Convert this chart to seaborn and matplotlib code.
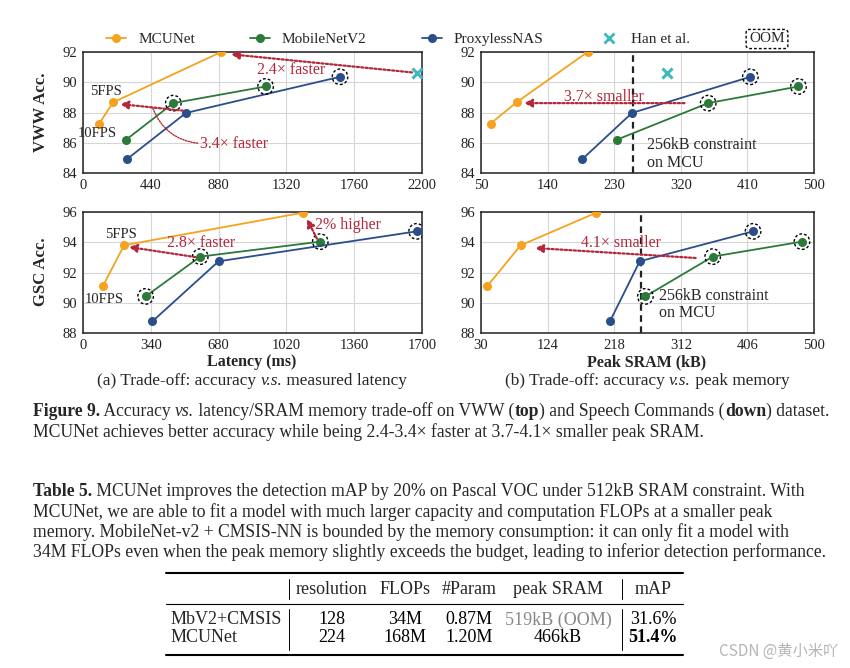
import matplotlib
matplotlib.use('Agg')
import matplotlib.pyplot as plt
import seaborn as sns
from matplotlib.lines import Line2D

# values
vww_latency_mcunet = [106, 195, 896]
vww_latency_mbv2 = [281, 586, 1185]
vww_latency_proxyless = [286, 668, 1668]
vww_sram_mcunet = [63, 98, 194]
vww_sram_mbv2 = [234, 357, 479]
vww_sram_proxyless = [187, 254, 414]
vww_acc_mcunet = [87.27, 88.67, 92.0]
vww_acc_mbv2 = [86.21, 88.62, 89.72]
vww_acc_proxyless = [84.92, 87.97, 90.36]
vww_oom_mbv2 = [False, True, True]
vww_oom_proxyless = [False, False, True]
han_latency = [2165]
han_sram = [301]
han_acc = [90.63]

gsc_latency_mcunet = [100, 206, 1105]
gsc_latency_mbv2 = [314, 588, 1190]
gsc_latency_proxyless = [348, 680, 1673]
gsc_sram_mcunet = [39, 86, 193]
gsc_sram_mbv2 = [262, 357, 483]
gsc_sram_proxyless = [212, 254, 414]
gsc_acc_mcunet = [91.11, 93.80, 95.96]
gsc_acc_mbv2 = [90.42, 93.05, 94.04]
gsc_acc_proxyless = [88.77, 92.74, 94.72]
gsc_oom_mbv2 = [True, True, True]
gsc_oom_proxyless = [False, False, True]

vww_latency_ticks = [0, 440, 880, 1320, 1760, 2200]
vww_sram_ticks = [50, 140, 230, 320, 410, 500]
gsc_latency_ticks = [0, 340, 680, 1020, 1360, 1700]
gsc_sram_ticks = [30, 124, 218, 312, 406, 500]
vww_acc_ticks = [84, 86, 88, 90, 92]
gsc_acc_ticks = [88, 90, 92, 94, 96]

table_header = ['resolution', 'FLOPs', '#Param', 'peak SRAM', 'mAP']
table_rows = ['MbV2+CMSIS', 'MCUNet']
table_resolution = ['128', '224']
table_flops = ['34M', '168M']
table_params = ['0.87M', '1.20M']
table_sram = ['519kB (OOM)', '466kB']
table_map = ['31.6%', '51.4%']

ORANGE = '#F6A21E'
GREEN = '#2B7A3A'
BLUE = '#2A4E8C'
CYAN = '#3DB8BE'
RED = '#B3283A'

sns.set_theme(style='whitegrid')
plt.rcParams['font.family'] = ['Liberation Serif', 'DejaVu Serif']

W, H = 850, 668
fig = plt.figure(figsize=(8.5, 6.68), dpi=100)
renderer = fig.canvas.get_renderer()


def fx(px):
    return px / W


def fy(py):
    return 1 - py / H


def make_ax(left, top, right, bottom):
    return fig.add_axes([fx(left), fy(bottom), fx(right) - fx(left), (bottom - top) / H])


def rich(x, y, parts, size, ha='left'):
    # parts: list of (text, weight, style); drawn one after another
    objs = []
    cur = x
    for s, wgt, sty in parts:
        t = fig.text(fx(cur), fy(y), s, fontsize=size, fontweight=wgt, fontstyle=sty, va='center')
        cur += t.get_window_extent(renderer).width
        objs.append(t)
    if ha == 'center':
        shift = (cur - x) / 2
        for t in objs:
            px, py = t.get_position()
            t.set_position((px - shift / W, py))


def panel(ax, xs, accs, ooms, xticks, yticks):
    for x, y, c in zip(xs, accs, [ORANGE, GREEN, BLUE]):
        sns.lineplot(x=x, y=y, ax=ax, color=c, marker='o', markersize=6.5,
                     markeredgewidth=0, linewidth=1.3, sort=False, legend=False, zorder=3)
    for x, y, o in zip(xs[1:], accs[1:], ooms):
        px = [a for a, f in zip(x, o) if f]
        py = [b for b, f in zip(y, o) if f]
        ax.scatter(px, py, s=125, facecolors='none', edgecolors='black',
                   linewidths=1.0, linestyle=(0, (2, 1.5)), zorder=4)
    ax.set_xlim(xticks[0], xticks[-1])
    ax.set_ylim(yticks[0], yticks[-1])
    ax.set_xticks(xticks)
    ax.set_yticks(yticks)
    ax.set_xlabel('')
    ax.set_ylabel('')
    ax.tick_params(length=0, labelsize=10.5, pad=4, colors='#222222')
    ax.grid(True, color='#d6d6d6', linewidth=0.8)
    for s in ax.spines.values():
        s.set_color('#222222')
        s.set_linewidth(1.1)


def arrow(ax, start, end, lw=1.6):
    ax.annotate('', xy=end, xytext=start,
                arrowprops=dict(arrowstyle='-|>,head_length=0.4,head_width=0.2', color=RED,
                                lw=lw, linestyle=(0, (1, 1)), shrinkA=0, shrinkB=0), zorder=5)


ax1 = make_ax(83, 52, 422, 173)
ax2 = make_ax(481, 52, 814, 173)
ax3 = make_ax(83, 212, 422, 333)
ax4 = make_ax(481, 212, 814, 333)

# VWW vs latency
panel(ax1, [vww_latency_mcunet, vww_latency_mbv2, vww_latency_proxyless],
      [vww_acc_mcunet, vww_acc_mbv2, vww_acc_proxyless],
      [vww_oom_mbv2, vww_oom_proxyless], vww_latency_ticks, vww_acc_ticks)
ax1.plot(han_latency, han_acc, 'x', color=CYAN, markersize=7, markeredgewidth=2.2, clip_on=False, zorder=5)
arrow(ax1, (2135, 90.65), (960, 91.85))
ax1.text(1352, 90.84, '2.4× faster', color=RED, fontsize=11.5, ha='center', va='center')
arrow(ax1, (650, 88.12), (240, 88.56))
ax1.annotate('', xy=(745, 85.97), xytext=(454, 88.27),
             arrowprops=dict(arrowstyle='-', color=RED, lw=1.0, linestyle=(0, (1, 1)),
                             connectionstyle='arc3,rad=0.3', shrinkA=0, shrinkB=0))
ax1.text(761, 85.93, '3.4× faster', color=RED, fontsize=11.5, ha='left', va='center')
ax1.text(151, 89.37, '5FPS', fontsize=10.5, ha='center', va='center')
ax1.text(93, 86.58, '10FPS', fontsize=10.5, ha='center', va='center')

# VWW vs SRAM
panel(ax2, [vww_sram_mcunet, vww_sram_mbv2, vww_sram_proxyless],
      [vww_acc_mcunet, vww_acc_mbv2, vww_acc_proxyless],
      [vww_oom_mbv2, vww_oom_proxyless], vww_sram_ticks, vww_acc_ticks)
ax2.plot(han_sram, han_acc, 'x', color=CYAN, markersize=7, markeredgewidth=2.2, zorder=5)
ax2.axvline(256, color='#222222', linestyle=(0, (3, 2)), linewidth=1.6, zorder=2)
arrow(ax2, (325, 88.62), (108, 88.62))
ax2.text(216, 89.04, '3.7× smaller', color=RED, fontsize=11.5, ha='center', va='center')
ax2.text(274, 85.25, '256kB constraint\non MCU', fontsize=11.5, ha='left', va='center', linespacing=1.1)

# GSC vs latency
panel(ax3, [gsc_latency_mcunet, gsc_latency_mbv2, gsc_latency_proxyless],
      [gsc_acc_mcunet, gsc_acc_mbv2, gsc_acc_proxyless],
      [gsc_oom_mbv2, gsc_oom_proxyless], gsc_latency_ticks, gsc_acc_ticks)
arrow(ax3, (563, 93.02), (229, 93.69))
ax3.text(593, 93.95, '2.8× faster', color=RED, fontsize=11.5, ha='center', va='center')
arrow(ax3, (1173, 94.24), (1123, 95.54))
ax3.text(1165, 95.12, '2% higher', color=RED, fontsize=11.5, ha='left', va='center')
ax3.text(190, 94.52, '5FPS', fontsize=10.5, ha='center', va='center')
ax3.text(107, 90.22, '10FPS', fontsize=10.5, ha='center', va='center')

# GSC vs SRAM
panel(ax4, [gsc_sram_mcunet, gsc_sram_mbv2, gsc_sram_proxyless],
      [gsc_acc_mcunet, gsc_acc_mbv2, gsc_acc_proxyless],
      [gsc_oom_mbv2, gsc_oom_proxyless], gsc_sram_ticks, gsc_acc_ticks)
ax4.axvline(256, color='#222222', linestyle=(0, (3, 2)), linewidth=1.6, zorder=2)
arrow(ax4, (333, 92.96), (106, 93.62))
ax4.text(228, 93.95, '4.1× smaller', color=RED, fontsize=11.5, ha='center', va='center')
ax4.text(281, 89.86, '256kB constraint\non MCU', fontsize=11.5, ha='left', va='center', linespacing=1.1)

# axis labels and sub captions
fig.text(fx(41), fy(112), 'VWW Acc.', rotation=90, fontsize=12, fontweight='bold', ha='center', va='center')
fig.text(fx(41), fy(272), 'GSC Acc.', rotation=90, fontsize=12, fontweight='bold', ha='center', va='center')
fig.text(fx(252), fy(362), 'Latency (ms)', fontsize=11.5, fontweight='bold', ha='center', va='center')
fig.text(fx(647), fy(362), 'Peak SRAM (kB)', fontsize=11.5, fontweight='bold', ha='center', va='center')
rich(252, 381, [('(a) Trade-off: accuracy ', 'normal', 'normal'), ('v.s.', 'normal', 'italic'),
                (' measured latency', 'normal', 'normal')], 12.4, ha='center')
rich(647, 381, [('(b) Trade-off: accuracy ', 'normal', 'normal'), ('v.s.', 'normal', 'italic'),
                (' peak memory', 'normal', 'normal')], 12.4, ha='center')

# legend
handles = [
    Line2D([], [], color=ORANGE, marker='o', markersize=6.5, markeredgewidth=0, lw=1.3),
    Line2D([], [], color=GREEN, marker='o', markersize=6.5, markeredgewidth=0, lw=1.3),
    Line2D([], [], color=BLUE, marker='o', markersize=6.5, markeredgewidth=0, lw=1.3),
    Line2D([], [], color=CYAN, marker='x', markersize=7, markeredgewidth=2, lw=0),
]
fig.legend(handles, ['MCUNet', 'MobileNetV2', 'ProxylessNAS', 'Han et al.'], loc='center left',
           bbox_to_anchor=(fx(100), fy(39)), ncol=4, frameon=False, fontsize=11,
           handlelength=1.3, handletextpad=0.8, columnspacing=3.6, borderaxespad=0)
fig.text(fx(767), fy(39), 'OOM', fontsize=11, ha='center', va='center',
         bbox=dict(boxstyle='round,pad=0.2', fc='none', ec='black', ls=(0, (2, 1.5)), lw=1))

# figure caption and table caption
cap = 12.7
N, B, I = 'normal', 'bold', 'italic'
rich(33, 411, [('Figure 9.', B, N), (' Accuracy ', N, N), ('vs.', N, I),
               (' latency/SRAM memory trade-off on VWW (', N, N), ('top', B, N),
               (') and Speech Commands (', N, N), ('down', B, N), (') dataset.', N, N)], cap)
rich(33, 432, [('MCUNet achieves better accuracy while being 2.4-3.4× faster at 3.7-4.1× smaller peak SRAM.', N, N)], cap)
rich(33, 491, [('Table 5.', B, N), (' MCUNet improves the detection mAP by 20% on Pascal VOC under '
                                     '512kB SRAM constraint. With', N, N)], cap)
rich(33, 512, [('MCUNet, we are able to fit a model with much larger capacity and computation FLOPs at a '
                'smaller peak', N, N)], cap)
rich(33, 532, [('memory. MobileNet-v2 + CMSIS-NN is bounded by the memory consumption: it can only fit a '
                'model with', N, N)], cap)
rich(33, 552, [('34M FLOPs even when the peak memory slightly exceeds the budget, leading to inferior '
                'detection performance.', N, N)], cap)

# table
tab = fig.add_axes([0, 0, 1, 1], facecolor='none')
tab.set_xlim(0, W)
tab.set_ylim(H, 0)
tab.axis('off')
tab.plot([166, 683], [573, 573], color='black', lw=1.5)
tab.plot([166, 683], [604, 604], color='black', lw=0.8)
tab.plot([166, 683], [655, 655], color='black', lw=1.5)
for xv in [289, 622]:
    tab.plot([xv, xv], [579, 599], color='black', lw=0.7)
    tab.plot([xv, xv], [609, 650], color='black', lw=0.7)
col_x = [332, 405, 469, 558, 653]
for cx, h in zip(col_x, table_header):
    tab.text(cx, 589, h, fontsize=13, ha='center', va='center')
for i, ry in enumerate([620, 638]):
    tab.text(171, ry, table_rows[i], fontsize=13, ha='left', va='center')
    vals = [table_resolution[i], table_flops[i], table_params[i], table_sram[i], table_map[i]]
    for j, (cx, v) in enumerate(zip(col_x, vals)):
        color = '#888888' if (j == 3 and i == 0) else 'black'
        weight = 'bold' if (j == 4 and i == 1) else 'normal'
        tab.text(cx, ry, v, fontsize=13, ha='center', va='center', color=color, fontweight=weight)

fig.text(fx(838), fy(651), 'CSDN @黄小米吖', ha='right', va='center', color='#b5b5b5', fontsize=11,
         family=['Noto Sans CJK SC', 'DejaVu Sans'])

fig.savefig('out.png', dpi=100)
